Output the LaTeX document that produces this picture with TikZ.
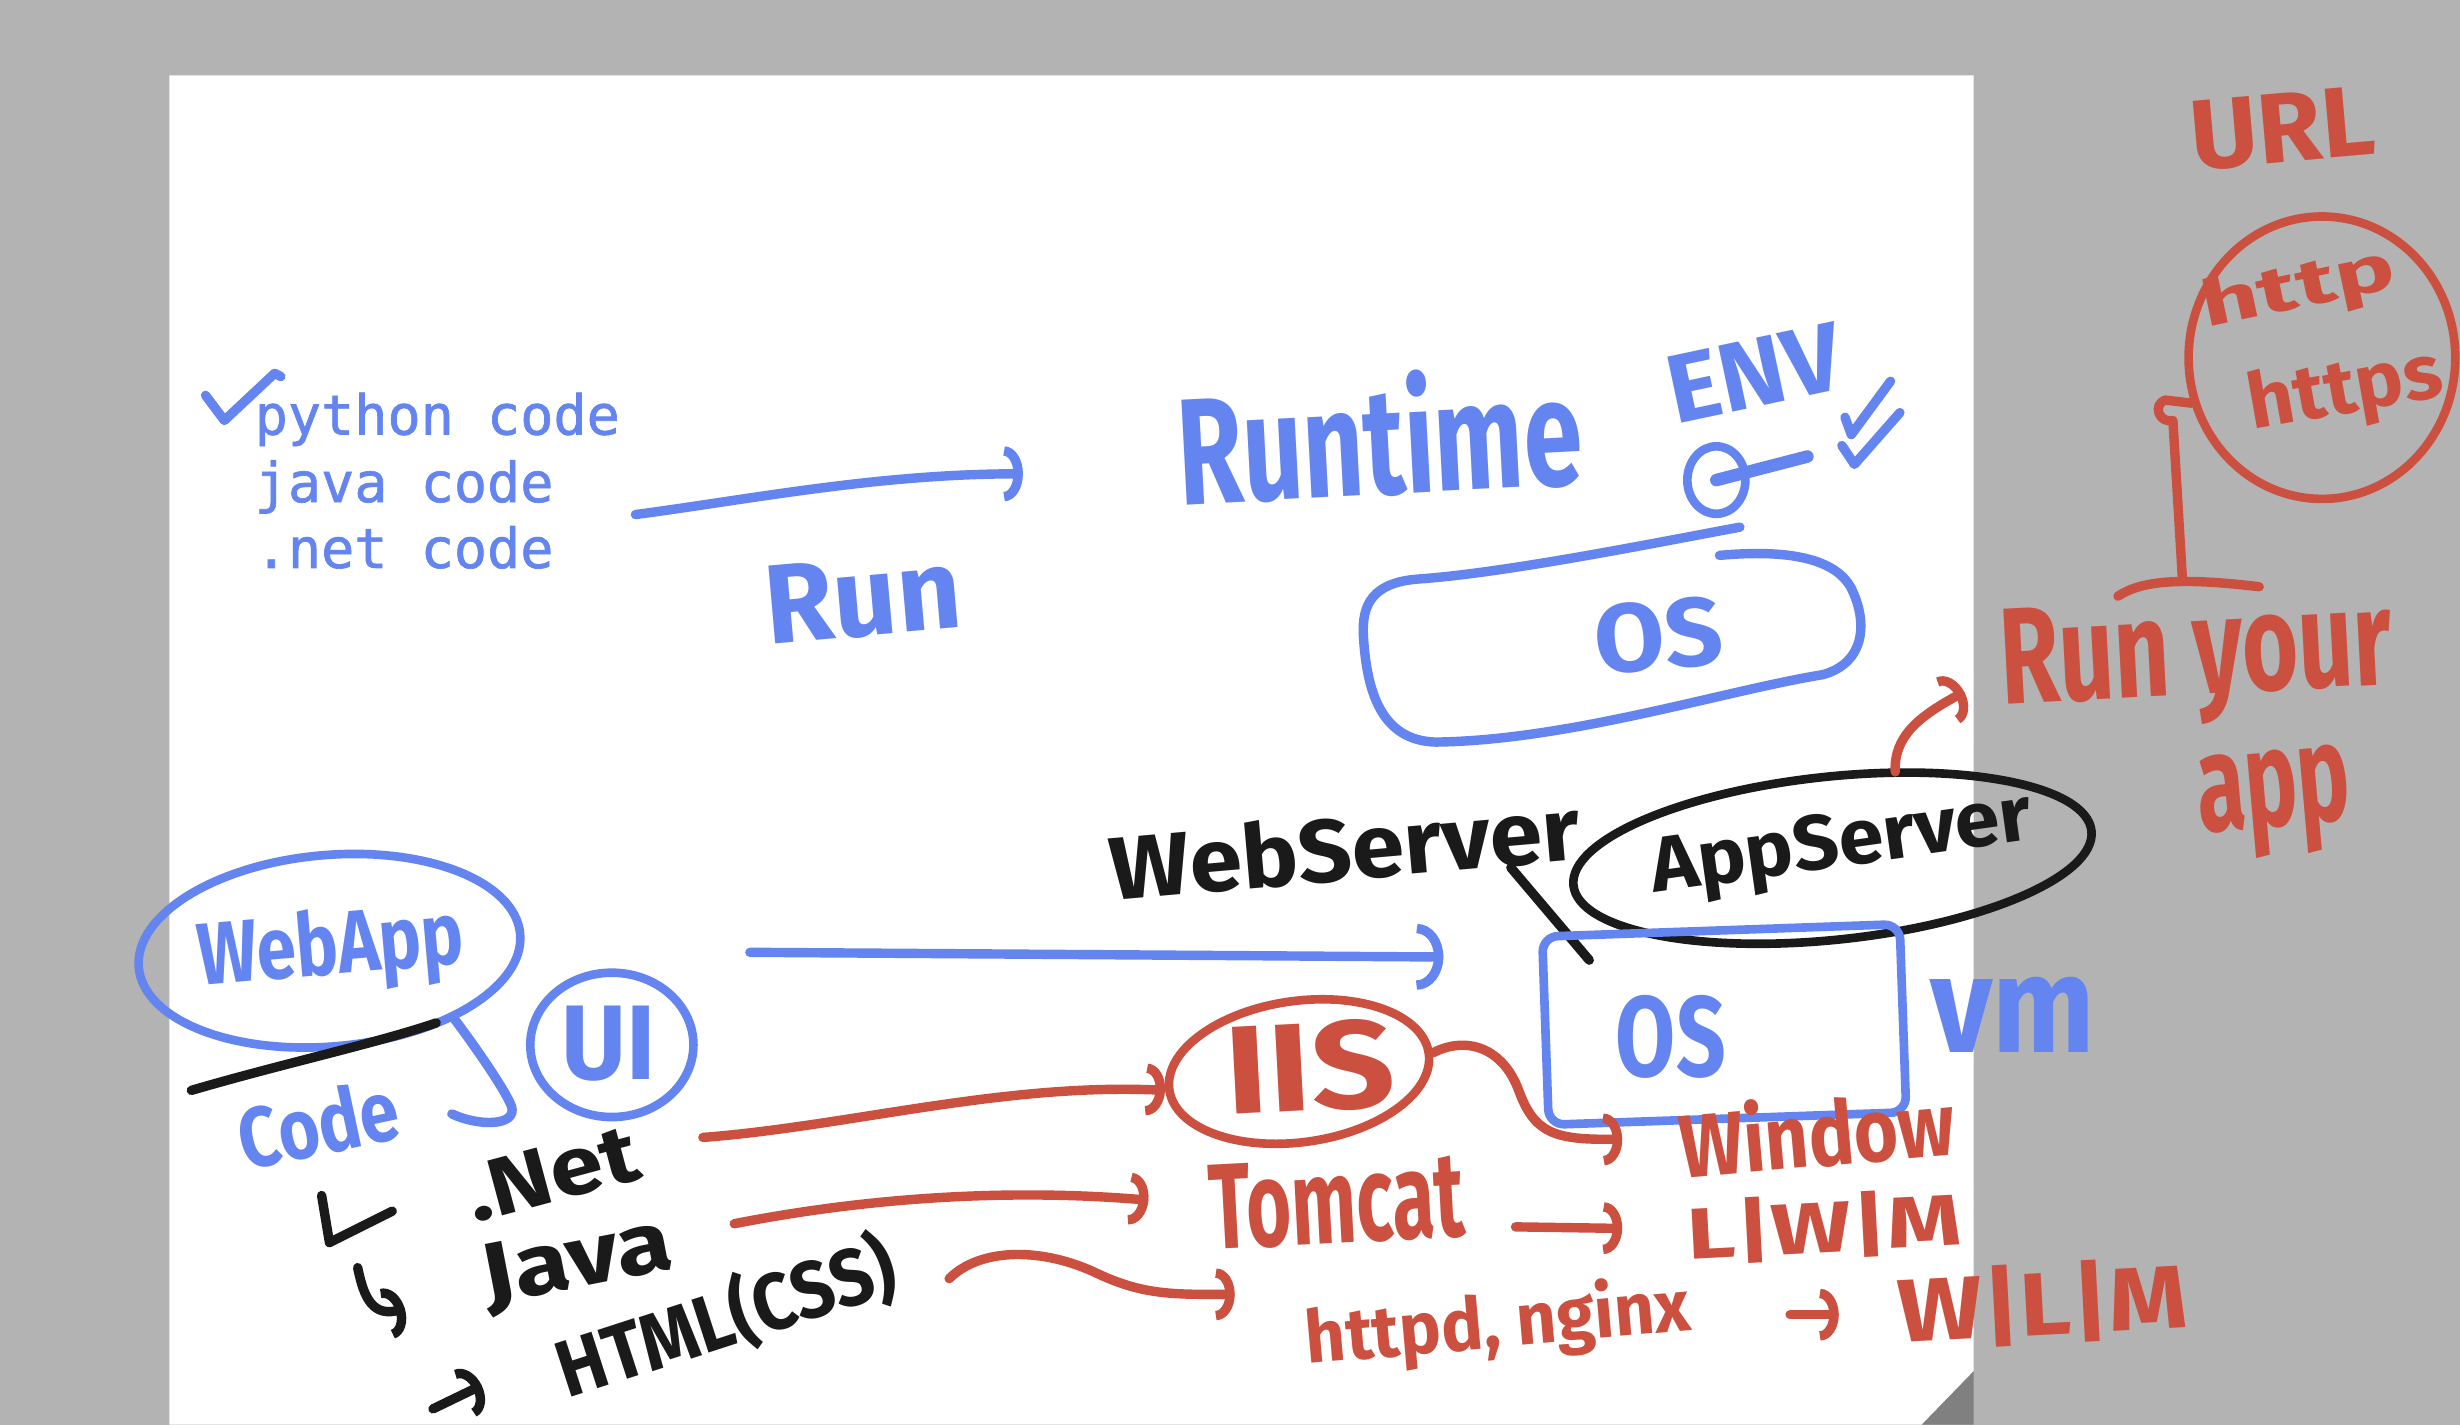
\documentclass[tikz,border=0pt]{standalone}
\usepackage{fontspec}
\usepackage{graphicx}
\usetikzlibrary{arrows.meta,shapes.geometric}
\newfontfamily\hwfont{Fira Sans}
\newfontfamily\codefont{DejaVu Sans Mono}[FakeBold=1.2]
\definecolor{inkB}{RGB}{100,132,240}
\definecolor{inkR}{RGB}{204,80,64}
\definecolor{inkK}{RGB}{26,26,26}
\definecolor{bgG}{RGB}{179,179,179}
\definecolor{foldG}{RGB}{128,128,128}
\newdimen\upxd
\upxd=0.2mm
\newcommand{\fitbox}[3]{\resizebox*{#1\upxd}{#2\upxd}{#3}}
\begin{document}
\begin{tikzpicture}[x=0.2mm,y=-0.2mm,
  inkline/.style={line width=1.2mm,line cap=round,line join=round},
  hwtext/.style={inner sep=0pt,outer sep=0pt,font=\hwfont\bfseries},
  ringshape/.style={ellipse,draw,line width=1.1mm,inner sep=0pt},
  codetext/.style={anchor=base west,inner sep=0pt,text=inkB,font=\codefont\fontsize{20}{24}\selectfont},
  hookS/.style={-{Arc Barb[length=2.4mm,width=7mm]}},
  hookL/.style={-{Arc Barb[length=3.4mm,width=8.4mm]}},
  hookR/.style={-{Arc Barb[length=2.4mm,width=6.6mm]}}]
\useasboundingbox (0,0) rectangle (1568,908);
\fill[bgG] (0,0) rectangle (1568,908);
\fill[white] (108,48) -- (1258,48) -- (1258,874) -- (1225,908) -- (108,908) -- cycle;
\fill[foldG] (1225,908) -- (1258,874) -- (1258,908) -- cycle;

% code list
\node[codetext] (py) at (162,277) {python code};
\node[codetext] (jv) at (162,320) {java code};
\node[codetext] (nt) at (162,362) {.net code};
\draw[inkB,inkline] (131,252) -- (143,268) -- (175,238) -- (179,240);

% Runtime ENV
\node[hwtext,text=inkB,rotate=3] (runtime) at (879,277) {\fitbox{258}{80}{Runtime}};
\node[hwtext,text=inkB,rotate=12] (env) at (1118,238) {\fitbox{112}{43}{ENV}};
\draw[inkB,inkline] (1176,266) -- (1180,277) -- (1205,243);
\draw[inkB,inkline] (1174,284) -- (1182,296) -- (1211,263);
\node[ringshape,draw=inkB,minimum width=7.4mm,minimum height=8.6mm] (pin) at (1094,306) {};
\coordinate (pinend) at (1152,291);
\draw[inkB,line width=1.6mm,line cap=round] (pin.center) -- (pinend);

% OS box 1
\draw[inkB,inkline] (1109,336) .. controls (1050,347) and (960,365) .. (905,369)
  .. controls (875,371) and (868,385) .. (869,405)
  .. controls (871,440) and (880,472) .. (915,473)
  .. controls (1000,472) and (1100,440) .. (1162,430)
  .. controls (1190,422) and (1190,395) .. (1180,375)
  .. controls (1170,356) and (1140,350) .. (1096,354);
\node[hwtext,text=inkB,rotate=5] (os1) at (1057,405) {\fitbox{82}{45}{OS}};

% Run arrow
\coordinate (a1s) at (405,328);
\coordinate (a1e) at (652,302);
\draw[inkB,inkline,hookS] (a1s) .. controls (480,318) and (560,302) .. (a1e);
\node[hwtext,text=inkB,rotate=5] (run) at (550,381) {\fitbox{125}{51}{Run}};

% WebApp
\node[ringshape,draw=inkB,rotate=5,minimum width=48.8mm,minimum height=24.4mm] (webappring) at (210,606) {};
\node[hwtext,text=inkB,rotate=5] (webapp) at (211,606) {\fitbox{170}{55}{WebApp}};
\coordinate (ul1) at (122,695);
\coordinate (ul2) at (278,652);
\draw[inkK,inkline] (ul1) .. controls (180,678) and (240,665) .. (ul2);
\node[hwtext,text=inkB,rotate=12] (code) at (203,716) {\fitbox{103}{42}{Code}};
\draw[inkB,inkline] (290,650) .. controls (305,670) and (322,695) .. (326,705)
  .. controls (330,718) and (305,718) .. (288,710);
\node[ringshape,draw=inkB,minimum width=20.8mm,minimum height=18.4mm] (uiring) at (390,666) {};
\node[hwtext,text=inkB] (ui) at (388,665) {\fitbox{60}{48}{UI}};

% arrow 2
\coordinate (a2s) at (478,607);
\coordinate (a2e) at (920,610);
\draw[inkB,inkline,hookL] (a2s) -- (a2e);

% WebServer / AppServer
\node[hwtext,text=inkK,rotate=5] (webserver) at (857,540) {\fitbox{300}{44}{WebServer}};
\coordinate (wsp) at (963,553);
\coordinate (wse) at (1013,612);
\draw[inkK,inkline] (wsp) -- (wse);
\node[ringshape,draw=inkK,rotate=6,minimum width=66.4mm,minimum height=20.8mm] (appring) at (1168,547) {};
\node[hwtext,text=inkK,rotate=8] (appserver) at (1174,540) {\fitbox{245}{46}{AppServer}};

% OS box 2
\node[draw=inkB,line width=1.1mm,rounded corners=2mm,rotate=2,minimum width=45.6mm,minimum height=24mm,inner sep=0pt] (os2box) at (1099,653) {};
\node[hwtext,text=inkB] (os2) at (1065,661) {\fitbox{70}{53}{OS}};
\node[hwtext,text=inkB] (vm) at (1283,647) {\fitbox{105}{48}{vm}};

% left black list
\draw[inkK,inkline] (205,762) -- (210,792) -- (250,772);
\node[hwtext,text=inkK,rotate=15] (dotnet) at (352,748) {\fitbox{112}{37}{.Net}};
\draw[inkK,inkline,hookR] (228,808) .. controls (232,828) and (238,840) .. (258,834);
\node[hwtext,text=inkK,rotate=11] (java) at (368,806) {\fitbox{122}{47}{Java}};
\draw[inkK,inkline,hookR] (276,898) -- (307,883);
\node[hwtext,text=inkK,rotate=18] (html) at (463,840) {\fitbox{224}{52}{HTML(CSS)}};

% red: IIS
\node[ringshape,draw=inkR,rotate=8,minimum width=33.4mm,minimum height=18mm] (iisring) at (828,683) {};
\node[hwtext,text=inkR,rotate=3] (iis) at (835,680) {\fitbox{108}{58}{IIS}};
\coordinate (r1s) at (448,725);
\draw[inkR,inkline,hookR] (r1s) .. controls (540,718) and (640,690) .. (iisring.west);
\coordinate (winarr) at (1034,726);
\draw[inkR,inkline,hookR] (iisring.east) .. controls (935,660) and (958,668) .. (968,695)
  .. controls (978,722) and (990,727) .. (winarr);
\node[hwtext,text=inkR,rotate=5] (window) at (1158,721) {\fitbox{176}{47}{Window}};

% red: Tomcat
\node[hwtext,text=inkR,rotate=3] (tomcat) at (852,766) {\fitbox{163}{55}{Tomcat}};
\coordinate (r2s) at (468,780);
\coordinate (r2e) at (732,765);
\draw[inkR,inkline,hookR] (r2s) .. controls (560,762) and (650,758) .. (r2e);
\coordinate (r3s) at (966,782);
\coordinate (r3e) at (1034,783);
\draw[inkR,inkline,hookR] (r3s) -- (r3e);
\node[hwtext,text=inkR,rotate=3] (lwm) at (1163,782) {\fitbox{175}{42}{L|W|M}};

% red: httpd
\coordinate (r4s) at (605,815);
\coordinate (r4e) at (787,825);
\draw[inkR,inkline,hookR] (r4s) .. controls (625,795) and (665,795) .. (700,812)
  .. controls (730,826) and (750,825) .. (r4e);
\node[hwtext,text=inkR,rotate=5] (httpd) at (955,845) {\fitbox{246}{48}{httpd, nginx}};
\coordinate (r5s) at (1141,838);
\coordinate (r5e) at (1172,838);
\draw[inkR,inkline,hookR] (r5s) -- (r5e);
\node[hwtext,text=inkR,rotate=3] (wlm) at (1302,831) {\fitbox{185}{52}{W|L|M}};

% right side
\coordinate (r6s) at (1208,492);
\coordinate (r6e) at (1252,441);
\draw[inkR,inkline,hookR] (r6s) .. controls (1207,470) and (1222,457) .. (r6e);
\node[hwtext,text=inkR,rotate=3] (runyour) at (1400,422) {\fitbox{250}{80}{Run your}};
\node[hwtext,text=inkR,rotate=5] (app) at (1450,512) {\fitbox{98}{68}{app}};
\draw[inkR,inkline] (1350,380) .. controls (1365,370) and (1390,368) .. (1440,374);
\coordinate (brtop) at (1397,257);
\draw[inkR,inkline] (1391,368) -- (1385,268) .. controls (1376,270) and (1372,258) .. (1380,255) -- (brtop);
\node[hwtext,text=inkR,rotate=5] (url) at (1455,82) {\fitbox{118}{45}{URL}};
\node[ringshape,draw=inkR,minimum width=34mm,minimum height=36mm] (httpring) at (1480,228) {};
\node[hwtext,text=inkR,rotate=12] (http) at (1465,185) {\fitbox{125}{40}{http}};
\node[hwtext,text=inkR,rotate=10] (https) at (1495,250) {\fitbox{125}{48}{https}};
\end{tikzpicture}
\end{document}
